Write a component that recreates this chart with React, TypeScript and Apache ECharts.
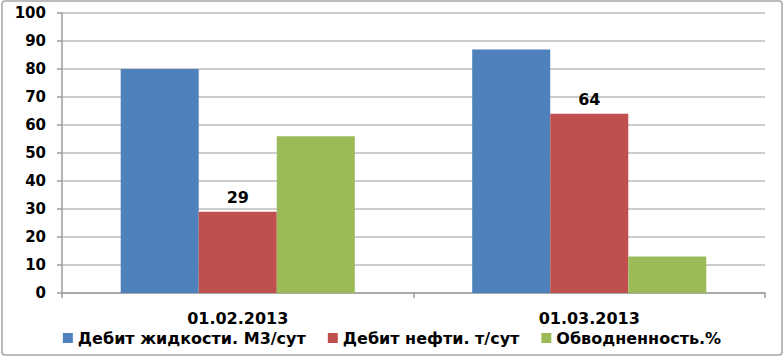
import React, { useEffect, useRef } from "react";
import * as echarts from "echarts";

const categories = ["01.02.2013", "01.03.2013"];
const liquidRate = [80, 87];
const oilRate = [29, 64];
const waterCut = [56, 13];
const seriesNames = ["Дебит жидкости. М3/сут", "Дебит нефти. т/сут", "Обводненность.%"];

const FONT = "'DejaVu Sans', Verdana, sans-serif";

export default function App() {
  const ref = useRef<HTMLDivElement>(null);
  useEffect(() => {
    const chart = echarts.init(ref.current!, null, { renderer: "svg" });
    chart.setOption({
      animation: false,
      textStyle: { fontFamily: FONT },
      graphic: [
        {
          type: "rect",
          shape: { x: 2, y: 1, width: 780, height: 354, r: 3 },
          style: { fill: "none", stroke: "#a6a6a6", lineWidth: 1.5 },
          silent: true,
        },
      ],
      grid: { left: 62, right: 19, top: 13, bottom: 64, containLabel: false },
      legend: {
        bottom: 6,
        left: "center",
        icon: "rect",
        itemWidth: 10,
        itemHeight: 10,
        itemGap: 22,
        textStyle: { fontFamily: FONT, fontWeight: "bold", fontSize: 16, color: "#000" },
        data: seriesNames,
      },
      xAxis: {
        type: "category",
        data: categories,
        axisLine: { lineStyle: { color: "#9c9c9c", width: 1.5 } },
        axisTick: { show: true, length: 5, lineStyle: { color: "#9c9c9c", width: 1.5 } },
        axisLabel: { fontFamily: FONT, fontWeight: "bold", fontSize: 16, color: "#000", margin: 17 },
      },
      yAxis: {
        type: "value",
        min: 0,
        max: 100,
        interval: 10,
        axisLine: { show: true, lineStyle: { color: "#9c9c9c", width: 1.5 } },
        axisTick: { show: true, length: 5, lineStyle: { color: "#9c9c9c", width: 1.5 } },
        splitLine: { lineStyle: { color: "#bdbdbd", width: 1.5 } },
        axisLabel: { fontFamily: FONT, fontWeight: "bold", fontSize: 15, color: "#000", margin: 16 },
      },
      series: [
        {
          name: seriesNames[0],
          type: "bar",
          data: liquidRate,
          barGap: "0%",
          barCategoryGap: "33.4%",
          itemStyle: { color: "#4f81bd" },
        },
        {
          name: seriesNames[1],
          type: "bar",
          data: oilRate,
          itemStyle: { color: "#c0504d" },
          label: {
            show: true,
            position: "top",
            distance: 6,
            fontFamily: FONT,
            fontWeight: "bold",
            fontSize: 16,
            color: "#000",
          },
        },
        {
          name: seriesNames[2],
          type: "bar",
          data: waterCut,
          itemStyle: { color: "#9bbb59" },
        },
      ],
    });
    return () => chart.dispose();
  }, []);
  return (
    <div
      ref={ref}
      style={{ position: "fixed", left: 0, top: 0, width: 784, height: 357, background: "#fff" }}
    />
  );
}
